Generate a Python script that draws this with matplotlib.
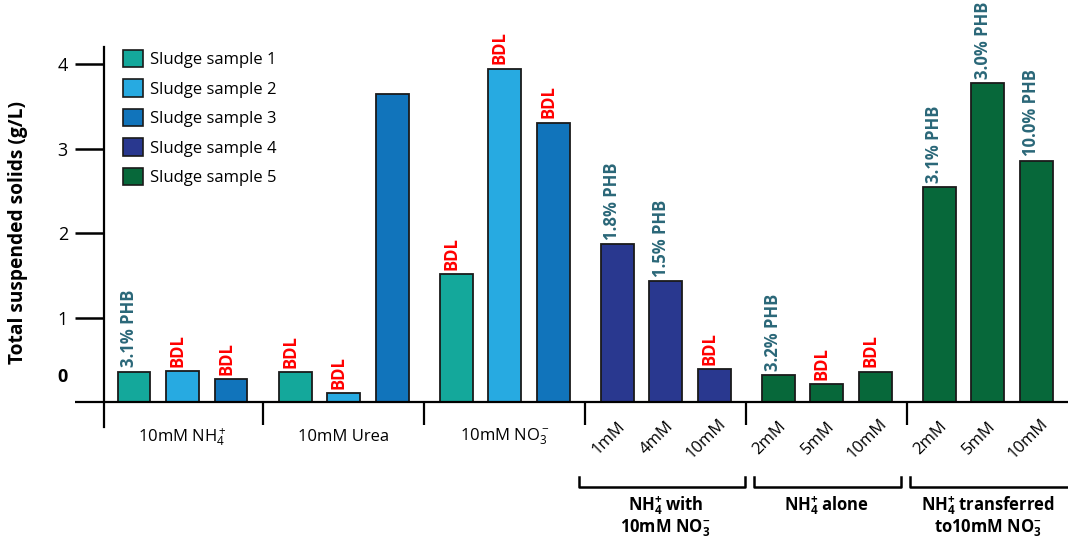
import matplotlib
matplotlib.use("Agg")
import matplotlib.pyplot as plt
import matplotlib.transforms as mtrans
from matplotlib.patches import Patch
import numpy as np

plt.rcParams['font.family'] = ['Open Sans', 'DejaVu Sans']
plt.rcParams['mathtext.fontset'] = 'custom'
plt.rcParams['mathtext.rm'] = 'Open Sans'
plt.rcParams['mathtext.it'] = 'Open Sans:italic'
plt.rcParams['mathtext.bf'] = 'Open Sans:bold'

# ---------------- data ----------------
group_labels = ["10mM NH$_4^+$", "10mM Urea", "10mM NO$_3^-$", "", "", ""]
conc_labels = [["", "", ""], ["", "", ""], ["", "", ""],
               ["1mM", "4mM", "10mM"], ["2mM", "5mM", "10mM"], ["2mM", "5mM", "10mM"]]
bracket_labels = {3: ["NH$_\\mathbf{4}^\\mathbf{+}$ with", "10mM NO$_\\mathbf{3}^\\mathbf{-}$"],
                  4: ["NH$_\\mathbf{4}^\\mathbf{+}$ alone"],
                  5: ["NH$_\\mathbf{4}^\\mathbf{+}$ transferred", "to10mM NO$_\\mathbf{3}^\\mathbf{-}$"]}
values = [[0.36, 0.37, 0.27],
          [0.35, 0.11, 3.65],
          [1.52, 3.95, 3.31],
          [1.87, 1.43, 0.39],
          [0.32, 0.21, 0.36],
          [2.55, 3.78, 2.86]]
samples = [[1, 2, 3], [1, 2, 3], [1, 2, 3], [4, 4, 4], [5, 5, 5], [5, 5, 5]]
annotations = [["3.1% PHB", "BDL", "BDL"],
               ["BDL", "BDL", ""],
               ["BDL", "BDL", "BDL"],
               ["1.8% PHB", "1.5% PHB", "BDL"],
               ["3.2% PHB", "BDL", "BDL"],
               ["3.1% PHB", "3.0% PHB", "10.0% PHB"]]
sample_names = ["Sludge sample 1", "Sludge sample 2", "Sludge sample 3",
                "Sludge sample 4", "Sludge sample 5"]
sample_colors = {1: "#14A89B", 2: "#27AAE1", 3: "#1174BB", 4: "#29388F", 5: "#07683A"}
yticks = [1, 2, 3, 4]

PHB_COLOR = "#2A6778"
BDL_COLOR = "#FF0000"

# ---------------- figure ----------------
W, H = 1068, 539
fig = plt.figure(figsize=(W / 100, H / 100), dpi=100)
ax_left, ax_right, ax_top, ax_bot = 104, 1068, 47, 427
ax = fig.add_axes([ax_left / W, 1 - ax_bot / H, (ax_right - ax_left) / W, (ax_bot - ax_top) / H])

px_per_unit_y = 84.4
y0_px = 402
ax.set_ylim(-(ax_bot - y0_px) / px_per_unit_y, (y0_px - ax_top) / px_per_unit_y)
unit_x = 48.5
first_px = 182.5
ax.set_xlim((ax_left - first_px) / unit_x, (ax_right - first_px) / unit_x)

gap = 3.32
offsets = np.array([-1.0, 0.0, 1.0])
centers = np.arange(len(values)) * gap

FS = 12
lw_axis = 1.6
for g, (vals, samp, ann) in enumerate(zip(values, samples, annotations)):
    xs = centers[g] + offsets
    cols = [sample_colors[s] for s in samp]
    ax.bar(xs, vals, width=0.68, color=cols, edgecolor="#1a1a1a", linewidth=1.3, zorder=3)
    for x, v, a in zip(xs, vals, ann):
        if not a:
            continue
        c = BDL_COLOR if a == "BDL" else PHB_COLOR
        ax.annotate(a, (x - 0.1, v), xytext=(0, 3), textcoords="offset points",
                    rotation=90, ha="center", va="bottom", fontsize=FS,
                    fontweight="bold", color=c, zorder=4, annotation_clip=False)
    if group_labels[g]:
        ax.text(centers[g], -0.415, group_labels[g], ha="center", va="center", fontsize=FS)
    for x, lab in zip(xs, conc_labels[g]):
        if lab:
            ax.text(x - 0.17, -0.43, lab, rotation=45, ha="center", va="center",
                    fontsize=FS, clip_on=False)

# separators below axis
for g in range(1, len(values)):
    s = (g - 0.5) * gap
    ax.plot([s, s], [0, -0.27], color="black", lw=lw_axis, clip_on=False, solid_capstyle="butt")

# x-axis line (extends left of the y axis)
ax.plot([(75 - first_px) / unit_x, ax.get_xlim()[1]], [0, 0], color="black", lw=lw_axis,
        clip_on=False, zorder=5, solid_capstyle="butt")

# brackets
bracket_spans = {3: (-1.79, 1.64), 4: (-1.49, 1.53), 5: (-1.60, 1.80)}
yb_low = -(487 - y0_px) / px_per_unit_y
yb_high = -(477 - y0_px) / px_per_unit_y
for g, (l, r) in bracket_spans.items():
    c = centers[g]
    ax.plot([c + l, c + l, c + r, c + r], [yb_high, yb_low, yb_low, yb_high],
            color="black", lw=1.8, clip_on=False)
    lines = bracket_labels[g]
    for k, line in enumerate(lines):
        yl = -(506 + 22 * k - y0_px) / px_per_unit_y
        ax.text(c, yl, line, ha="center", va="center", fontsize=FS, fontweight="bold",
                clip_on=False)

# spines & ticks
for sp in ["top", "right", "bottom"]:
    ax.spines[sp].set_visible(False)
ax.spines["left"].set_linewidth(lw_axis)
ax.set_xticks([])
ax.set_yticks(yticks)
ax.set_yticklabels([str(t) for t in yticks], fontsize=13)
ax.tick_params(axis="y", direction="out", length=21, width=1.8, pad=5)

trans = mtrans.blended_transform_factory(ax.transAxes, ax.transData)
ax.text(-42 / (ax_right - ax_left), 0.30, "0", transform=trans, ha="center", va="center",
        fontsize=13, fontweight="bold")

fig.text(18 / W, 1 - 232 / H, "Total suspended solids (g/L)", rotation=90,
         ha="center", va="center", fontsize=13.8, fontweight="bold")

# legend
handles = [Patch(facecolor=sample_colors[i + 1], edgecolor="#1a1a1a", linewidth=1.2)
           for i in range(len(sample_names))]
ax.legend(handles, sample_names, loc="upper left",
          bbox_to_anchor=((123 - ax_left) / (ax_right - ax_left), 1.0 - 3 / (ax_bot - ax_top)),
          frameon=False, fontsize=FS, handlelength=1.2, handleheight=1.2,
          handletextpad=0.4, labelspacing=0.68, borderpad=0, borderaxespad=0)

fig.savefig("out.png", dpi=100)
